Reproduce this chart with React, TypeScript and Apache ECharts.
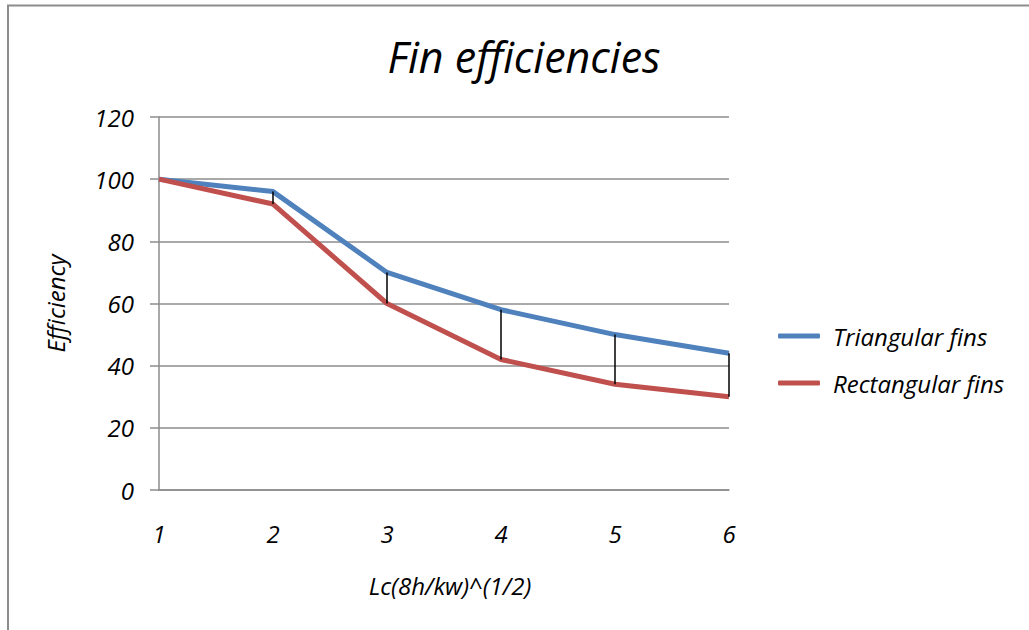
import React, { useEffect, useRef } from "react";
import * as echarts from "echarts";

const categories = ["1", "2", "3", "4", "5", "6"];
const triangular = [100, 96, 70, 58, 50, 44];
const rectangular = [100, 92, 60, 42, 34, 30];
const seriesNames = ["Triangular fins", "Rectangular fins"];

const FONT = "'Open Sans', 'Noto Sans', sans-serif";
const LABEL_SIZE = 24;

export default function App() {
  const ref = useRef<HTMLDivElement>(null);

  useEffect(() => {
    if (!ref.current) return;
    const chart = echarts.init(ref.current, undefined, { renderer: "svg" });

    // high-low connectors between the two series at each category
    const hiLow = categories.map((_, i) => [
      i,
      Math.max(triangular[i], rectangular[i]),
      Math.min(triangular[i], rectangular[i]),
    ]);

    const italic = { fontFamily: FONT, fontStyle: "italic", color: "#000" };

    chart.setOption({
      animation: false,
      backgroundColor: "#ffffff",
      textStyle: italic,
      title: {
        text: "Fin efficiencies",
        left: 519,
        textAlign: "center",
        top: 30,
        textStyle: { ...italic, fontWeight: "normal", fontSize: 43 },
      },
      legend: {
        orient: "vertical",
        left: 778,
        top: 324,
        padding: 0,
        itemWidth: 42,
        itemHeight: 5,
        itemGap: 23,
        icon: "roundRect",
        data: seriesNames,
        textStyle: { ...italic, fontSize: LABEL_SIZE, padding: [0, 0, 0, 8] },
      },
      grid: { left: 159, right: 300, top: 117, bottom: 140, containLabel: false },
      xAxis: {
        type: "category",
        data: categories,
        boundaryGap: false,
        name: "Lc(8h/kw)^(1/2)",
        nameLocation: "middle",
        nameGap: 83,
        nameTextStyle: { ...italic, fontSize: LABEL_SIZE, padding: [0, 0, 0, 12] },
        axisLine: { lineStyle: { color: "#8c8c8c", width: 1.5 } },
        axisTick: { show: false },
        axisLabel: { ...italic, margin: 31, fontSize: LABEL_SIZE },
        splitLine: { show: false },
      },
      yAxis: {
        type: "value",
        min: 0,
        max: 120,
        interval: 20,
        name: "Efficiency",
        nameLocation: "middle",
        nameGap: 92,
        nameRotate: 90,
        nameTextStyle: { ...italic, fontSize: LABEL_SIZE },
        axisLine: { show: true, lineStyle: { color: "#8c8c8c", width: 1.5 } },
        axisTick: { show: true, length: 9, lineStyle: { color: "#8c8c8c", width: 1.5 } },
        axisLabel: { ...italic, margin: 25, fontSize: LABEL_SIZE },
        splitLine: { lineStyle: { color: "#8c8c8c", width: 1.5 } },
      },
      series: [
        {
          name: seriesNames[0],
          type: "line",
          data: triangular,
          symbol: "none",
          itemStyle: { color: "#4f81bd" },
          lineStyle: { color: "#4f81bd", width: 5 },
          z: 3,
        },
        {
          name: seriesNames[1],
          type: "line",
          data: rectangular,
          symbol: "none",
          itemStyle: { color: "#c0504d" },
          lineStyle: { color: "#c0504d", width: 5 },
          z: 3,
        },
        {
          name: "hilow",
          type: "custom",
          data: hiLow,
          z: 4,
          renderItem: (params: any, api: any) => {
            const top = api.coord([api.value(0), api.value(1)]);
            const bottom = api.coord([api.value(0), api.value(2)]);
            return {
              type: "line",
              shape: { x1: top[0], y1: top[1], x2: bottom[0], y2: bottom[1] },
              style: { stroke: "#000", lineWidth: 1.5 },
            };
          },
        },
      ],
      graphic: [
        {
          type: "polyline",
          shape: { points: [[8, 630], [8, 5.5], [1029, 5.5]] },
          style: { stroke: "#8c8c8c", lineWidth: 2, fill: "none" },
        },
      ],
    });

    return () => chart.dispose();
  }, []);

  return (
    <div
      ref={ref}
      style={{ position: "fixed", left: 0, top: 0, width: 1029, height: 630 }}
    />
  );
}
